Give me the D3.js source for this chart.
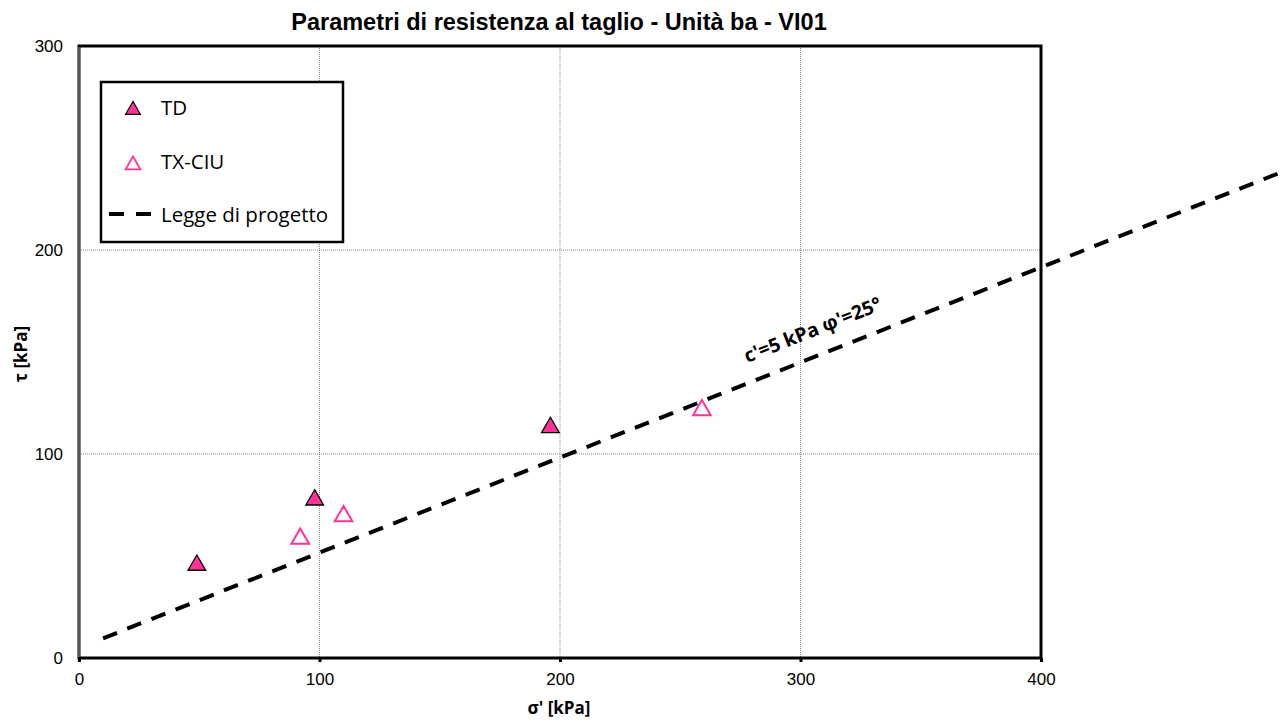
<!DOCTYPE html>
<html>
<head>
<meta charset="utf-8">
<script src="https://cdn.jsdelivr.net/npm/d3@7"></script>
<style>
  html, body { margin: 0; padding: 0; background: #fff; }
  svg { display: block; }
</style>
</head>
<body>
<svg id="chart" width="1286" height="725"></svg>
<script>
// Shear strength data (σ' and τ in kPa)
const tdSigma = [49, 98, 196];
const tdTau = [46, 78, 113.5];
const ciuSigma = [92, 110, 259];
const ciuTau = [59, 70, 122];

// Design strength envelope: τ = c' + σ' tan φ'
const cohesion = 5;
const phiDeg = 25;
const envelopeSigma = [10, 500];

const xTicks = [0, 100, 200, 300, 400];
const yTicks = [0, 100, 200, 300];

const pink = "#FF3399";
const arial = "Liberation Sans, Arial, sans-serif";
const calibri = "Open Sans, Lato, sans-serif";

const svg = d3.select("#chart");
const plotL = 79, plotR = 1041, plotT = 46, plotB = 658;

const x = d3.scaleLinear().domain([0, 400]).range([plotL, plotR]);
const y = d3.scaleLinear().domain([0, 300]).range([plotB, plotT]);

// Gridlines
const grid = svg.append("g");
grid.selectAll(".vg").data(xTicks.filter(d => d > 0 && d < 400)).join("line")
  .attr("x1", d => x(d)).attr("x2", d => x(d)).attr("y1", plotT).attr("y2", plotB)
  .attr("stroke", "#888").attr("stroke-width", 1).attr("stroke-dasharray", "1,1");
grid.selectAll(".hg").data(yTicks.filter(d => d > 0 && d < 300)).join("line")
  .attr("x1", plotL).attr("x2", plotR).attr("y1", d => y(d)).attr("y2", d => y(d))
  .attr("stroke", "#888").attr("stroke-width", 1).attr("stroke-dasharray", "1,1");

// Axes (labels only, frame drawn separately)
const xAxis = d3.axisBottom(x).tickValues(xTicks).tickSize(4).tickPadding(11);
const yAxis = d3.axisLeft(y).tickValues(yTicks).tickSize(0).tickPadding(16);

const gx = svg.append("g").attr("transform", `translate(0,${plotB})`).call(xAxis);
gx.select(".domain").remove();
gx.selectAll(".tick line").attr("stroke", "#000").attr("stroke-width", 3);
gx.selectAll("text").attr("font-family", arial).attr("font-size", 17).attr("fill", "#000");

const gy = svg.append("g").attr("transform", `translate(${plotL},0)`).call(yAxis);
gy.select(".domain").remove();
gy.selectAll("text").attr("font-family", arial).attr("font-size", 17).attr("fill", "#000");

// Plot frame
svg.append("rect").attr("x", plotL).attr("y", plotT).attr("width", plotR - plotL).attr("height", plotB - plotT)
  .attr("fill", "none").attr("stroke", "#000").attr("stroke-width", 3);
svg.append("line").attr("x1", plotL).attr("x2", plotL).attr("y1", plotT + 1).attr("y2", plotB - 1)
  .attr("stroke", "#aaa").attr("stroke-width", 1);

// Envelope line
const tanPhi = Math.tan(phiDeg * Math.PI / 180);
const envelope = envelopeSigma.map(s => [s, cohesion + s * tanPhi]);
svg.append("path")
  .datum(envelope)
  .attr("d", d3.line().x(d => x(d[0])).y(d => y(d[1])))
  .attr("fill", "none").attr("stroke", "#000").attr("stroke-width", 4)
  .attr("stroke-dasharray", "15,11");

// Envelope label
const labelSigma = 309;
const lx = x(labelSigma), ly = y(cohesion + labelSigma * tanPhi);
const ang = Math.atan2(y(cohesion + 400 * tanPhi) - y(cohesion), x(400) - x(0)) * 180 / Math.PI;
svg.append("text")
  .attr("transform", `translate(${lx},${ly}) rotate(${ang}) translate(0,-19)`)
  .attr("text-anchor", "middle")
  .attr("font-family", calibri).attr("font-weight", "bold").attr("font-size", 19.5)
  .text("c'=5 kPa φ'=25°");

// Triangle markers
const tri = d3.symbol().type(d3.symbolTriangle).size(135);
const tdData = tdSigma.map((s, i) => [s, tdTau[i]]);
const ciuData = ciuSigma.map((s, i) => [s, ciuTau[i]]);

svg.append("g").selectAll("path").data(ciuData).join("path")
  .attr("d", tri).attr("transform", d => `translate(${x(d[0])},${y(d[1]) + 1})`)
  .attr("fill", "#fff").attr("stroke", pink).attr("stroke-width", 2);
svg.append("g").selectAll("path").data(tdData).join("path")
  .attr("d", tri).attr("transform", d => `translate(${x(d[0])},${y(d[1]) + 1})`)
  .attr("fill", pink).attr("stroke", "#000").attr("stroke-width", 1.3);

// Legend
const lg = svg.append("g");
lg.append("rect").attr("x", 101).attr("y", 82).attr("width", 242).attr("height", 160)
  .attr("fill", "#fff").attr("stroke", "#000").attr("stroke-width", 2.5);
lg.append("path").attr("d", d3.symbol().type(d3.symbolTriangle).size(95))
  .attr("transform", "translate(133,110)").attr("fill", pink).attr("stroke", "#000").attr("stroke-width", 1.2);
lg.append("text").attr("x", 161).attr("y", 115).attr("font-family", calibri).attr("font-size", 20.5).text("TD");
lg.append("path").attr("d", d3.symbol().type(d3.symbolTriangle).size(95))
  .attr("transform", "translate(133,165)").attr("fill", "#fff").attr("stroke", pink).attr("stroke-width", 1.8);
lg.append("text").attr("x", 161).attr("y", 169).attr("font-family", calibri).attr("font-size", 20.5).text("TX-CIU");
lg.append("line").attr("x1", 109).attr("x2", 152).attr("y1", 214).attr("y2", 214)
  .attr("stroke", "#000").attr("stroke-width", 4).attr("stroke-dasharray", "15,12");
lg.append("text").attr("x", 161).attr("y", 222).attr("font-family", calibri).attr("font-size", 20.5).text("Legge di progetto");

// Titles
svg.append("text").attr("x", 559).attr("y", 30).attr("text-anchor", "middle")
  .attr("font-family", arial).attr("font-weight", "bold").attr("font-size", 23.5)
  .text("Parametri di resistenza al taglio - Unità ba - VI01");
svg.append("text").attr("x", 559).attr("y", 714).attr("text-anchor", "middle")
  .attr("font-family", calibri).attr("font-weight", "bold").attr("font-size", 17)
  .text("σ' [kPa]");
svg.append("text").attr("transform", "translate(27,354) rotate(-90)").attr("text-anchor", "middle")
  .attr("font-family", calibri).attr("font-weight", "bold").attr("font-size", 17)
  .text("τ [kPa]");
</script>
</body>
</html>
